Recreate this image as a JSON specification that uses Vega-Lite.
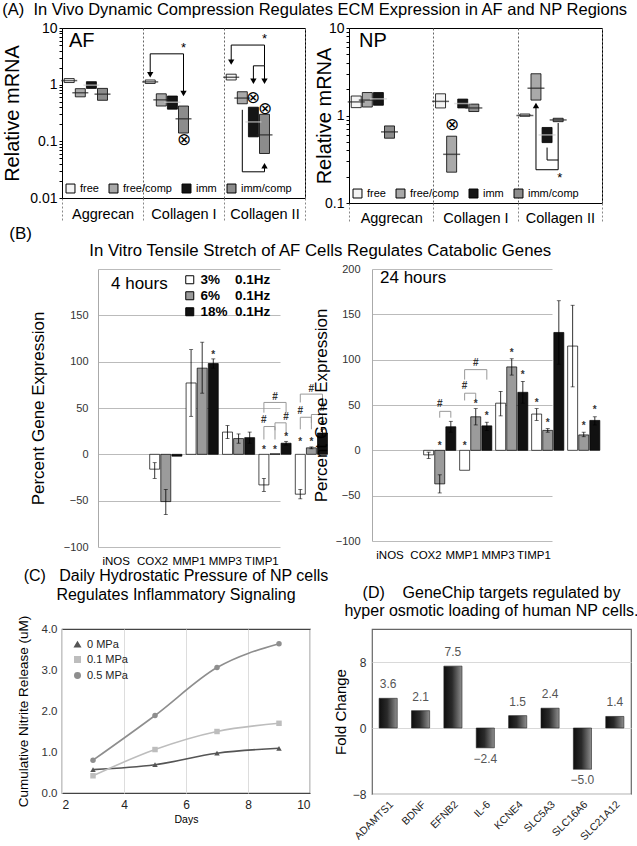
{
"$schema": "https://vega.github.io/schema/vega-lite/v6.json",
"background": "white",
"padding": {"left": 2, "top": 2, "right": 2, "bottom": 0},
"spacing": 0,
"align": "none",
"resolve": {"scale": {"fill": "independent", "color": "independent", "shape": "independent"}, "legend": {"fill": "independent", "color": "independent", "shape": "independent"}},
"config": {
 "font": "Liberation Sans",
 "view": {"stroke": null},
 "title": {"font": "Liberation Sans", "fontWeight": "normal", "color": "black"},
 "axis": {"labelFont": "Liberation Sans", "titleFont": "Liberation Sans", "titleFontWeight": "normal", "titleColor": "black"},
 "legend": {"labelFont": "Liberation Sans"}
},
"datasets": {
 "afBox": [
  {"cat":"Aggrecan","group":"free","lo":1.09,"med":1.18,"hi":1.28},
  {"cat":"Aggrecan","group":"free/comp","lo":0.61,"med":0.72,"hi":0.85},
  {"cat":"Aggrecan","group":"imm","lo":0.86,"med":0.98,"hi":1.13},
  {"cat":"Aggrecan","group":"imm/comp","lo":0.53,"med":0.68,"hi":0.86},
  {"cat":"Collagen I","group":"free","lo":1.05,"med":1.12,"hi":1.21},
  {"cat":"Collagen I","group":"free/comp","lo":0.42,"med":0.54,"hi":0.69},
  {"cat":"Collagen I","group":"imm","lo":0.37,"med":0.49,"hi":0.63},
  {"cat":"Collagen I","group":"imm/comp","lo":0.14,"med":0.25,"hi":0.42},
  {"cat":"Collagen II","group":"free","lo":1.21,"med":1.35,"hi":1.53},
  {"cat":"Collagen II","group":"free/comp","lo":0.46,"med":0.58,"hi":0.75},
  {"cat":"Collagen II","group":"imm","lo":0.12,"med":0.22,"hi":0.40},
  {"cat":"Collagen II","group":"imm/comp","lo":0.061,"med":0.13,"hi":0.30}
 ],
 "afLine": [
  {"id":"a","ord":1,"cat":"Collagen I","group":"free","v":1.5},
  {"id":"a","ord":2,"cat":"Collagen I","group":"free","v":3.5},
  {"id":"a","ord":3,"cat":"Collagen I","group":"imm/comp","v":3.5},
  {"id":"a","ord":4,"cat":"Collagen I","group":"imm/comp","v":0.75},
  {"id":"b","ord":1,"cat":"Collagen II","group":"free","v":2.6},
  {"id":"b","ord":2,"cat":"Collagen II","group":"free","v":5.0},
  {"id":"b","ord":3,"cat":"Collagen II","group":"imm/comp","v":5.0},
  {"id":"b","ord":4,"cat":"Collagen II","group":"imm/comp","v":2.15},
  {"id":"c","ord":1,"cat":"Collagen II","group":"imm","v":1.2},
  {"id":"c","ord":2,"cat":"Collagen II","group":"imm","v":2.15},
  {"id":"c","ord":3,"cat":"Collagen II","group":"imm/comp","v":2.15},
  {"id":"c","ord":4,"cat":"Collagen II","group":"imm/comp","v":1.2},
  {"id":"d","ord":1,"cat":"Collagen II","group":"free/comp","v":0.36},
  {"id":"d","ord":2,"cat":"Collagen II","group":"free/comp","v":0.029},
  {"id":"d","ord":3,"cat":"Collagen II","group":"imm/comp","v":0.029},
  {"id":"d","ord":4,"cat":"Collagen II","group":"imm/comp","v":0.034}
 ],
 "afArrow": [
  {"cat":"Collagen I","group":"free","v":1.5,"dir":"down"},
  {"cat":"Collagen I","group":"imm/comp","v":0.7,"dir":"down"},
  {"cat":"Collagen II","group":"free","v":2.5,"dir":"down"},
  {"cat":"Collagen II","group":"imm","v":1.15,"dir":"down"},
  {"cat":"Collagen II","group":"imm/comp","v":1.15,"dir":"down"},
  {"cat":"Collagen II","group":"imm/comp","v":0.037,"dir":"up"}
 ],
 "afMark": [
  {"cat":"Collagen I","group":"imm/comp","v":0.105,"t":"⊗"},
  {"cat":"Collagen II","group":"imm","v":0.58,"t":"⊗"},
  {"cat":"Collagen II","group":"imm/comp","v":0.37,"t":"⊗"}
 ],
 "afStar": [
  {"cat":"Collagen I","v":4.4,"t":"*"},
  {"cat":"Collagen II","v":6.3,"t":"*"}
 ],
 "npBox": [
  {"cat":"Aggrecan","group":"free","lo":1.23,"med":1.43,"hi":1.67},
  {"cat":"Aggrecan","group":"free/comp","lo":1.25,"med":1.5,"hi":1.83},
  {"cat":"Aggrecan","group":"imm","lo":1.31,"med":1.55,"hi":1.83},
  {"cat":"Aggrecan","group":"imm/comp","lo":0.55,"med":0.65,"hi":0.76},
  {"cat":"Collagen I","group":"free","lo":1.22,"med":1.45,"hi":1.77},
  {"cat":"Collagen I","group":"free/comp","lo":0.225,"med":0.36,"hi":0.58},
  {"cat":"Collagen I","group":"imm","lo":1.22,"med":1.37,"hi":1.54},
  {"cat":"Collagen I","group":"imm/comp","lo":1.11,"med":1.22,"hi":1.35},
  {"cat":"Collagen II","group":"free","lo":0.98,"med":1.0,"hi":1.04},
  {"cat":"Collagen II","group":"free/comp","lo":1.5,"med":2.05,"hi":3.0},
  {"cat":"Collagen II","group":"imm","lo":0.49,"med":0.6,"hi":0.73},
  {"cat":"Collagen II","group":"imm/comp","lo":0.85,"med":0.89,"hi":0.93}
 ],
 "npLine": [
  {"id":"e","ord":1,"cat":"Collagen II","group":"imm","v":0.43},
  {"id":"e","ord":2,"cat":"Collagen II","group":"imm","v":0.31},
  {"id":"e","ord":3,"cat":"Collagen II","group":"imm/comp","v":0.31},
  {"id":"e","ord":4,"cat":"Collagen II","group":"imm/comp","v":0.82},
  {"id":"f","ord":1,"cat":"Collagen II","group":"imm/comp","v":0.31},
  {"id":"f","ord":2,"cat":"Collagen II","group":"imm/comp","v":0.24},
  {"id":"f","ord":3,"cat":"Collagen II","group":"free/comp","v":0.24},
  {"id":"f","ord":4,"cat":"Collagen II","group":"free/comp","v":1.3}
 ],
 "npArrow": [
  {"cat":"Collagen II","group":"free/comp","v":1.3,"dir":"up"}
 ],
 "npMark": [
  {"cat":"Collagen I","group":"free/comp","v":0.78,"t":"⊗"}
 ],
 "npStar": [
  {"cat":"Collagen II","v":0.195,"t":"*"}
 ],
 "b4": [
  {"gene":"iNOS","cond":"3%","v":-16,"lo":-26,"hi":-9},
  {"gene":"iNOS","cond":"6%","v":-51,"lo":-65,"hi":-38},
  {"gene":"iNOS","cond":"18%","v":-2,"lo":null,"hi":null},
  {"gene":"COX2","cond":"3%","v":77,"lo":41,"hi":113},
  {"gene":"COX2","cond":"6%","v":93,"lo":66,"hi":121},
  {"gene":"COX2","cond":"18%","v":98,"lo":93,"hi":103},
  {"gene":"MMP1","cond":"3%","v":24,"lo":17,"hi":31},
  {"gene":"MMP1","cond":"6%","v":17,"lo":12,"hi":22},
  {"gene":"MMP1","cond":"18%","v":18,"lo":12,"hi":24},
  {"gene":"MMP3","cond":"3%","v":-33,"lo":-40,"hi":-26},
  {"gene":"MMP3","cond":"6%","v":0.6,"lo":null,"hi":null},
  {"gene":"MMP3","cond":"18%","v":12,"lo":10,"hi":14},
  {"gene":"TIMP1","cond":"3%","v":-43,"lo":-48,"hi":-38},
  {"gene":"TIMP1","cond":"6%","v":7,"lo":6,"hi":8},
  {"gene":"TIMP1","cond":"18%","v":23,"lo":20,"hi":27}
 ],
 "b4ann": [
  {"gene":"COX2","cond":"18%","v":107,"t":"*"},
  {"gene":"MMP3","cond":"3%","v":5,"t":"*"},
  {"gene":"MMP3","cond":"6%","v":5,"t":"*"},
  {"gene":"MMP3","cond":"18%","v":19,"t":"*"},
  {"gene":"TIMP1","cond":"3%","v":13,"t":"*"},
  {"gene":"TIMP1","cond":"6%","v":13,"t":"*"},
  {"gene":"TIMP1","cond":"18%","v":32,"t":"*"},
  {"gene":"MMP3","cond":"3%","v":37,"t":"#"},
  {"gene":"MMP3","cond":"18%","v":40,"t":"#"},
  {"gene":"MMP3","cond":"6%","v":62,"t":"#"},
  {"gene":"TIMP1","cond":"3%","v":47,"t":"#"},
  {"gene":"TIMP1","cond":"18%","v":50,"t":"#"},
  {"gene":"TIMP1","cond":"6%","v":71,"t":"#"}
 ],
 "b4br": [
  {"id":"m1","ord":1,"gene":"MMP3","cond":"3%","v":16},
  {"id":"m1","ord":2,"gene":"MMP3","cond":"3%","v":30},
  {"id":"m1","ord":3,"gene":"MMP3","cond":"6%","v":30},
  {"id":"m1","ord":4,"gene":"MMP3","cond":"6%","v":16},
  {"id":"m2","ord":1,"gene":"MMP3","cond":"6%","v":26},
  {"id":"m2","ord":2,"gene":"MMP3","cond":"6%","v":34},
  {"id":"m2","ord":3,"gene":"MMP3","cond":"18%","v":34},
  {"id":"m2","ord":4,"gene":"MMP3","cond":"18%","v":22},
  {"id":"m3","ord":1,"gene":"MMP3","cond":"3%","v":45},
  {"id":"m3","ord":2,"gene":"MMP3","cond":"3%","v":56},
  {"id":"m3","ord":3,"gene":"MMP3","cond":"18%","v":56},
  {"id":"m3","ord":4,"gene":"MMP3","cond":"18%","v":45},
  {"id":"t1","ord":1,"gene":"TIMP1","cond":"3%","v":27},
  {"id":"t1","ord":2,"gene":"TIMP1","cond":"3%","v":40},
  {"id":"t1","ord":3,"gene":"TIMP1","cond":"6%","v":40},
  {"id":"t1","ord":4,"gene":"TIMP1","cond":"6%","v":27},
  {"id":"t2","ord":1,"gene":"TIMP1","cond":"6%","v":34},
  {"id":"t2","ord":2,"gene":"TIMP1","cond":"6%","v":43},
  {"id":"t2","ord":3,"gene":"TIMP1","cond":"18%","v":43},
  {"id":"t2","ord":4,"gene":"TIMP1","cond":"18%","v":36},
  {"id":"t3","ord":1,"gene":"TIMP1","cond":"3%","v":56},
  {"id":"t3","ord":2,"gene":"TIMP1","cond":"3%","v":65},
  {"id":"t3","ord":3,"gene":"TIMP1","cond":"18%","v":65},
  {"id":"t3","ord":4,"gene":"TIMP1","cond":"18%","v":56}
 ],
 "b24": [
  {"gene":"iNOS","cond":"3%","v":-5,"lo":-9,"hi":-2},
  {"gene":"iNOS","cond":"6%","v":-37,"lo":-47,"hi":-27},
  {"gene":"iNOS","cond":"18%","v":26,"lo":20,"hi":32},
  {"gene":"COX2","cond":"3%","v":-22,"lo":null,"hi":null},
  {"gene":"COX2","cond":"6%","v":37,"lo":28,"hi":46},
  {"gene":"COX2","cond":"18%","v":27,"lo":22,"hi":31},
  {"gene":"MMP1","cond":"3%","v":52,"lo":38,"hi":65},
  {"gene":"MMP1","cond":"6%","v":92,"lo":83,"hi":101},
  {"gene":"MMP1","cond":"18%","v":64,"lo":52,"hi":76},
  {"gene":"MMP3","cond":"3%","v":40,"lo":33,"hi":46},
  {"gene":"MMP3","cond":"6%","v":22,"lo":20,"hi":24},
  {"gene":"MMP3","cond":"18%","v":130,"lo":95,"hi":165},
  {"gene":"TIMP1","cond":"3%","v":115,"lo":70,"hi":160},
  {"gene":"TIMP1","cond":"6%","v":17,"lo":15,"hi":20},
  {"gene":"TIMP1","cond":"18%","v":33,"lo":28,"hi":37}
 ],
 "b24ann": [
  {"gene":"iNOS","cond":"6%","v":5,"t":"*"},
  {"gene":"COX2","cond":"3%","v":5,"t":"*"},
  {"gene":"COX2","cond":"6%","v":51,"t":"*"},
  {"gene":"COX2","cond":"18%","v":38,"t":"*"},
  {"gene":"MMP1","cond":"6%","v":107,"t":"*"},
  {"gene":"MMP1","cond":"18%","v":83,"t":"*"},
  {"gene":"MMP3","cond":"3%","v":52,"t":"*"},
  {"gene":"MMP3","cond":"6%","v":30,"t":"*"},
  {"gene":"TIMP1","cond":"6%","v":27,"t":"*"},
  {"gene":"TIMP1","cond":"18%","v":44,"t":"*"},
  {"gene":"iNOS","cond":"6%","v":51,"t":"#"},
  {"gene":"COX2","cond":"3%","v":71,"t":"#"},
  {"gene":"COX2","cond":"6%","v":96,"t":"#"}
 ],
 "b24br": [
  {"id":"i1","ord":1,"gene":"iNOS","cond":"6%","v":36},
  {"id":"i1","ord":2,"gene":"iNOS","cond":"6%","v":43},
  {"id":"i1","ord":3,"gene":"iNOS","cond":"18%","v":43},
  {"id":"i1","ord":4,"gene":"iNOS","cond":"18%","v":36},
  {"id":"c1","ord":1,"gene":"COX2","cond":"3%","v":55},
  {"id":"c1","ord":2,"gene":"COX2","cond":"3%","v":63},
  {"id":"c1","ord":3,"gene":"COX2","cond":"6%","v":63},
  {"id":"c1","ord":4,"gene":"COX2","cond":"6%","v":55},
  {"id":"c2","ord":1,"gene":"COX2","cond":"3%","v":78},
  {"id":"c2","ord":2,"gene":"COX2","cond":"3%","v":89},
  {"id":"c2","ord":3,"gene":"COX2","cond":"18%","v":89},
  {"id":"c2","ord":4,"gene":"COX2","cond":"18%","v":78}
 ],
 "cdata": [
  {"p":"0 MPa","day":3,"v":0.57},{"p":"0 MPa","day":5,"v":0.69},{"p":"0 MPa","day":7,"v":0.97},{"p":"0 MPa","day":9,"v":1.09},
  {"p":"0.1 MPa","day":3,"v":0.42},{"p":"0.1 MPa","day":5,"v":1.06},{"p":"0.1 MPa","day":7,"v":1.5},{"p":"0.1 MPa","day":9,"v":1.7},
  {"p":"0.5 MPa","day":3,"v":0.8},{"p":"0.5 MPa","day":5,"v":1.89},{"p":"0.5 MPa","day":7,"v":3.06},{"p":"0.5 MPa","day":9,"v":3.64}
 ],
 "ddata": [
  {"gene":"ADAMTS1","v":3.6},{"gene":"BDNF","v":2.1},{"gene":"EFNB2","v":7.5},{"gene":"IL-6","v":-2.4},
  {"gene":"KCNE4","v":1.5},{"gene":"SLC5A3","v":2.4},{"gene":"SLC16A6","v":-5.0},{"gene":"SLC21A12","v":1.4}
 ]
},
"vconcat": [
 {
  "title": {"text": "(A)\u00a0 In Vivo Dynamic Compression Regulates ECM Expression in AF and NP Regions", "anchor": "start", "fontSize": 16.5, "offset": 2},
  "spacing": 8,
  "align": "none",
  "resolve": {"scale": {"fill": "independent", "color": "independent", "shape": "independent"}, "legend": {"fill": "independent", "color": "independent", "shape": "independent"}},
  "hconcat": [
   {
    "width": 243, "height": 170,
    "view": {"stroke": "black", "strokeWidth": 1},
    "title": {"text": "AF", "anchor": "start", "frame": "group", "offset": -30, "dx": 7, "fontSize": 20},
    "layer": [
     {"data": {"name": "afBox"}, "mark": {"type": "bar", "stroke": "black", "strokeWidth": 0.8},
      "encoding": {
       "x": {"field": "cat", "type": "nominal", "scale": {"domain": ["Aggrecan","Collagen I","Collagen II"], "paddingInner": 0, "paddingOuter": 0},
             "axis": {"title": null, "labelAngle": 0, "labelFontSize": 14.5, "labelColor": "black", "tickBand": "extent", "grid": true, "gridDash": [2,2], "gridColor": "#666", "tickSize": 22, "tickDash": [2,2], "tickColor": "#888", "labelPadding": -13, "domain": false}},
       "xOffset": {"field": "group", "type": "nominal", "scale": {"domain": ["free","free/comp","imm","imm/comp"], "paddingInner": 0.1, "paddingOuter": 0.2}},
       "y": {"field": "lo", "type": "quantitative", "title": "Relative mRNA", "scale": {"type": "log", "domain": [0.01, 10], "nice": false},
             "axis": {"values": [0.01,0.02,0.03,0.04,0.05,0.06,0.07,0.08,0.09,0.1,0.2,0.3,0.4,0.5,0.6,0.7,0.8,0.9,1,2,3,4,5,6,7,8,9,10],
                      "labelExpr": "datum.value === 10 ? '10' : datum.value === 1 ? '1' : datum.value === 0.1 ? '0.1' : datum.value === 0.01 ? '0.01' : ''",
                      "labelFontSize": 14, "labelColor": "black", "titleFontSize": 20, "titlePadding": 7, "tickSize": 3, "tickColor": "black", "domainColor": "black", "grid": false, "labelPadding": 2}},
       "y2": {"field": "hi"},
       "fill": {"field": "group", "type": "nominal", "scale": {"domain": ["free","free/comp","imm","imm/comp"], "range": ["#f4f4f4","#a9a9a9","#151515","#8c8c8c"]},
                "legend": {"title": null, "orient": "bottom-left", "direction": "horizontal", "symbolType": "square", "symbolSize": 80, "symbolStrokeColor": "black", "symbolStrokeWidth": 1, "labelFontSize": 11, "labelColor": "black", "columnPadding": 8, "offset": 3, "padding": 0}}
      }},
     {"mark": {"type": "rule", "strokeDash": [6,4], "color": "black", "strokeWidth": 1.3}, "encoding": {"y": {"datum": 1, "type": "quantitative"}}},
     {"data": {"name": "afBox"}, "mark": {"type": "tick", "thickness": 1.5, "size": 16},
      "encoding": {
       "x": {"field": "cat", "type": "nominal", "scale": {"domain": ["Aggrecan","Collagen I","Collagen II"]}},
       "xOffset": {"field": "group", "type": "nominal", "scale": {"domain": ["free","free/comp","imm","imm/comp"]}},
       "y": {"field": "med", "type": "quantitative", "title": "Relative mRNA"},
       "color": {"condition": {"test": "datum.group === 'imm'", "value": "#cfcfcf"}, "value": "#222"}
      }},
     {"data": {"name": "afLine"}, "mark": {"type": "line", "color": "black", "strokeWidth": 1},
      "encoding": {
       "x": {"field": "cat", "type": "nominal", "scale": {"domain": ["Aggrecan","Collagen I","Collagen II"]}},
       "xOffset": {"field": "group", "type": "nominal", "scale": {"domain": ["free","free/comp","imm","imm/comp"]}},
       "y": {"field": "v", "type": "quantitative", "title": "Relative mRNA"},
       "detail": {"field": "id"},
       "order": {"field": "ord"}
      }},
     {"data": {"name": "afArrow"}, "mark": {"type": "point", "filled": true, "color": "black", "size": 40, "opacity": 1},
      "encoding": {
       "x": {"field": "cat", "type": "nominal", "scale": {"domain": ["Aggrecan","Collagen I","Collagen II"]}},
       "xOffset": {"field": "group", "type": "nominal", "scale": {"domain": ["free","free/comp","imm","imm/comp"]}},
       "y": {"field": "v", "type": "quantitative", "title": "Relative mRNA"},
       "shape": {"field": "dir", "type": "nominal", "scale": {"domain": ["down","up"], "range": ["triangle-down","triangle-up"]}, "legend": null}
      }},
     {"data": {"name": "afMark"}, "mark": {"type": "text", "fontSize": 17, "color": "black", "baseline": "middle"},
      "encoding": {
       "x": {"field": "cat", "type": "nominal", "scale": {"domain": ["Aggrecan","Collagen I","Collagen II"]}},
       "xOffset": {"field": "group", "type": "nominal", "scale": {"domain": ["free","free/comp","imm","imm/comp"]}},
       "y": {"field": "v", "type": "quantitative", "title": "Relative mRNA"},
       "text": {"field": "t"}
      }},
     {"data": {"name": "afStar"}, "mark": {"type": "text", "fontSize": 13, "color": "black", "baseline": "middle"},
      "encoding": {
       "x": {"field": "cat", "type": "nominal", "scale": {"domain": ["Aggrecan","Collagen I","Collagen II"]}},
       "y": {"field": "v", "type": "quantitative", "title": "Relative mRNA"},
       "text": {"field": "t"}
      }}
    ]
   },
   {
    "width": 253, "height": 175,
    "view": {"stroke": "black", "strokeWidth": 1},
    "title": {"text": "NP", "anchor": "start", "frame": "group", "offset": -30, "dx": 10, "fontSize": 20},
    "layer": [
     {"data": {"name": "npBox"}, "mark": {"type": "bar", "stroke": "black", "strokeWidth": 0.8},
      "encoding": {
       "x": {"field": "cat", "type": "nominal", "scale": {"domain": ["Aggrecan","Collagen I","Collagen II"], "paddingInner": 0, "paddingOuter": 0},
             "axis": {"title": null, "labelAngle": 0, "labelFontSize": 14.5, "labelColor": "black", "tickBand": "extent", "grid": true, "gridDash": [2,2], "gridColor": "#666", "tickSize": 20, "tickDash": [2,2], "tickColor": "#888", "labelPadding": -12, "domain": false}},
       "xOffset": {"field": "group", "type": "nominal", "scale": {"domain": ["free","free/comp","imm","imm/comp"], "paddingInner": 0.1, "paddingOuter": 0.2}},
       "y": {"field": "lo", "type": "quantitative", "title": "Relative mRNA", "scale": {"type": "log", "domain": [0.1, 10], "nice": false},
             "axis": {"values": [0.1,0.2,0.3,0.4,0.5,0.6,0.7,0.8,0.9,1,2,3,4,5,6,7,8,9,10],
                      "labelExpr": "datum.value === 10 ? '10' : datum.value === 1 ? '1' : datum.value === 0.1 ? '0.1' : ''",
                      "labelFontSize": 14, "labelColor": "black", "titleFontSize": 20, "titlePadding": -10, "tickSize": 3, "tickColor": "black", "domainColor": "black", "grid": false, "labelPadding": 2}},
       "y2": {"field": "hi"},
       "fill": {"field": "group", "type": "nominal", "scale": {"domain": ["free","free/comp","imm","imm/comp"], "range": ["#f4f4f4","#a9a9a9","#151515","#8c8c8c"]},
                "legend": {"title": null, "orient": "bottom-left", "direction": "horizontal", "symbolType": "square", "symbolSize": 80, "symbolStrokeColor": "black", "symbolStrokeWidth": 1, "labelFontSize": 11, "labelColor": "black", "columnPadding": 8, "offset": 3, "padding": 0}}
      }},
     {"mark": {"type": "rule", "strokeDash": [6,4], "color": "black", "strokeWidth": 1.3}, "encoding": {"y": {"datum": 1, "type": "quantitative"}}},
     {"data": {"name": "npBox"}, "mark": {"type": "tick", "thickness": 1.5, "size": 17},
      "encoding": {
       "x": {"field": "cat", "type": "nominal", "scale": {"domain": ["Aggrecan","Collagen I","Collagen II"]}},
       "xOffset": {"field": "group", "type": "nominal", "scale": {"domain": ["free","free/comp","imm","imm/comp"]}},
       "y": {"field": "med", "type": "quantitative", "title": "Relative mRNA"},
       "color": {"condition": {"test": "datum.group === 'imm'", "value": "#cfcfcf"}, "value": "#222"}
      }},
     {"data": {"name": "npLine"}, "mark": {"type": "line", "color": "black", "strokeWidth": 1},
      "encoding": {
       "x": {"field": "cat", "type": "nominal", "scale": {"domain": ["Aggrecan","Collagen I","Collagen II"]}},
       "xOffset": {"field": "group", "type": "nominal", "scale": {"domain": ["free","free/comp","imm","imm/comp"]}},
       "y": {"field": "v", "type": "quantitative", "title": "Relative mRNA"},
       "detail": {"field": "id"},
       "order": {"field": "ord"}
      }},
     {"data": {"name": "npArrow"}, "mark": {"type": "point", "filled": true, "color": "black", "size": 40, "opacity": 1},
      "encoding": {
       "x": {"field": "cat", "type": "nominal", "scale": {"domain": ["Aggrecan","Collagen I","Collagen II"]}},
       "xOffset": {"field": "group", "type": "nominal", "scale": {"domain": ["free","free/comp","imm","imm/comp"]}},
       "y": {"field": "v", "type": "quantitative", "title": "Relative mRNA"},
       "shape": {"field": "dir", "type": "nominal", "scale": {"domain": ["down","up"], "range": ["triangle-down","triangle-up"]}, "legend": null}
      }},
     {"data": {"name": "npMark"}, "mark": {"type": "text", "fontSize": 17, "color": "black", "baseline": "middle"},
      "encoding": {
       "x": {"field": "cat", "type": "nominal", "scale": {"domain": ["Aggrecan","Collagen I","Collagen II"]}},
       "xOffset": {"field": "group", "type": "nominal", "scale": {"domain": ["free","free/comp","imm","imm/comp"]}},
       "y": {"field": "v", "type": "quantitative", "title": "Relative mRNA"},
       "text": {"field": "t"}
      }},
     {"data": {"name": "npStar"}, "mark": {"type": "text", "fontSize": 13, "color": "black", "baseline": "middle"},
      "encoding": {
       "x": {"field": "cat", "type": "nominal", "scale": {"domain": ["Aggrecan","Collagen I","Collagen II"]}},
       "y": {"field": "v", "type": "quantitative", "title": "Relative mRNA"},
       "text": {"field": "t"}
      }}
    ]
   }
  ]
 },
 {
  "spacing": -54,
  "align": "none",
  "resolve": {"scale": {"fill": "independent", "color": "independent", "shape": "independent"}, "legend": {"fill": "independent", "color": "independent", "shape": "independent"}},
  "hconcat": [
   {"width": 1, "height": 1, "data": {"values": []}, "mark": "point"},
   {
    "title": {"text": "(B)", "anchor": "start", "fontSize": 17, "dx": -20, "offset": 0},
    "align": "none",
    "resolve": {"scale": {"fill": "independent", "color": "independent", "shape": "independent"}, "legend": {"fill": "independent", "color": "independent", "shape": "independent"}},
    "vconcat": [
     {
      "title": {"text": "In Vitro Tensile Stretch of AF Cells Regulates Catabolic Genes", "anchor": "start", "fontSize": 16.8, "dx": 60, "offset": 3},
      "spacing": -16,
      "align": "none",
      "resolve": {"scale": {"fill": "independent", "color": "independent", "shape": "independent"}, "legend": {"fill": "independent", "color": "independent", "shape": "independent"}},
      "hconcat": [
       {
        "width": 182, "height": 278,
        "title": {"text": "4 hours", "anchor": "start", "frame": "group", "offset": -24, "dx": 13, "fontSize": 17},
        "layer": [
         {"data": {"name": "b4"}, "mark": {"type": "bar", "stroke": "black", "strokeWidth": 0.7},
          "encoding": {
           "x": {"field": "gene", "type": "nominal", "scale": {"domain": ["iNOS","COX2","MMP1","MMP3","TIMP1"], "paddingInner": 0.28, "paddingOuter": 0.14},
                 "axis": {"title": null, "labelAngle": 0, "labelFontSize": 11.5, "labelColor": "black", "domain": false, "ticks": false, "labelPadding": 8}},
           "xOffset": {"field": "cond", "type": "nominal", "scale": {"domain": ["3%","6%","18%"], "paddingInner": 0, "paddingOuter": 0}},
           "y": {"field": "v", "type": "quantitative", "title": "Percent Gene Expression", "scale": {"domain": [-100, 200], "nice": false},
                 "axis": {"values": [-100,-50,0,50,100,150,200], "labelExpr": "datum.value === 200 ? '' : datum.label", "labelFontSize": 11, "labelColor": "#333", "labelPadding": 10, "ticks": false, "grid": true, "gridColor": "#bbb", "domainColor": "#aaa", "titleFontSize": 17, "titlePadding": 16}},
           "fill": {"field": "cond", "type": "nominal", "scale": {"domain": ["3%","6%","18%"], "range": ["#ffffff","#9b9b9b","#111111"]},
                    "legend": {"title": null, "orient": "none", "legendX": 85, "legendY": 4, "padding": 0, "symbolType": "square", "symbolSize": 64, "symbolStrokeColor": "black", "symbolStrokeWidth": 1, "labelFontSize": 13.5, "labelFontWeight": "bold", "labelColor": "black", "rowPadding": 1,
                               "labelExpr": "datum.label === '18%' ? '18%\u00a0\u00a00.1Hz' : datum.label + '\u00a0\u00a0\u00a0\u00a00.1Hz'"}}
          }},
         {"data": {"name": "b4"}, "mark": {"type": "rule", "color": "black", "strokeWidth": 0.8},
          "encoding": {
           "x": {"field": "gene", "type": "nominal", "scale": {"domain": ["iNOS","COX2","MMP1","MMP3","TIMP1"]}},
           "xOffset": {"field": "cond", "type": "nominal", "scale": {"domain": ["3%","6%","18%"]}},
           "y": {"field": "lo", "type": "quantitative", "title": "Percent Gene Expression"},
           "y2": {"field": "hi"}
          }},
         {"data": {"name": "b4"}, "mark": {"type": "tick", "color": "black", "size": 4, "thickness": 0.8},
          "encoding": {
           "x": {"field": "gene", "type": "nominal", "scale": {"domain": ["iNOS","COX2","MMP1","MMP3","TIMP1"]}},
           "xOffset": {"field": "cond", "type": "nominal", "scale": {"domain": ["3%","6%","18%"]}},
           "y": {"field": "lo", "type": "quantitative", "title": "Percent Gene Expression"}
          }},
         {"data": {"name": "b4"}, "mark": {"type": "tick", "color": "black", "size": 4, "thickness": 0.8},
          "encoding": {
           "x": {"field": "gene", "type": "nominal", "scale": {"domain": ["iNOS","COX2","MMP1","MMP3","TIMP1"]}},
           "xOffset": {"field": "cond", "type": "nominal", "scale": {"domain": ["3%","6%","18%"]}},
           "y": {"field": "hi", "type": "quantitative", "title": "Percent Gene Expression"}
          }},
         {"data": {"name": "b4br"}, "mark": {"type": "line", "color": "#999", "strokeWidth": 1},
          "encoding": {
           "x": {"field": "gene", "type": "nominal", "scale": {"domain": ["iNOS","COX2","MMP1","MMP3","TIMP1"]}},
           "xOffset": {"field": "cond", "type": "nominal", "scale": {"domain": ["3%","6%","18%"]}},
           "y": {"field": "v", "type": "quantitative", "title": "Percent Gene Expression"},
           "detail": {"field": "id"},
           "order": {"field": "ord"}
          }},
         {"data": {"name": "b4ann"}, "mark": {"type": "text", "fontSize": 10, "fontWeight": "bold", "color": "#333", "baseline": "middle"},
          "encoding": {
           "x": {"field": "gene", "type": "nominal", "scale": {"domain": ["iNOS","COX2","MMP1","MMP3","TIMP1"]}},
           "xOffset": {"field": "cond", "type": "nominal", "scale": {"domain": ["3%","6%","18%"]}},
           "y": {"field": "v", "type": "quantitative", "title": "Percent Gene Expression"},
           "text": {"field": "t"}
          }}
        ]
       },
       {
        "width": 180, "height": 272,
        "title": {"text": "24 hours", "anchor": "start", "frame": "group", "offset": -24, "dx": 8, "fontSize": 17},
        "layer": [
         {"data": {"name": "b24"}, "mark": {"type": "bar", "stroke": "black", "strokeWidth": 0.7},
          "encoding": {
           "x": {"field": "gene", "type": "nominal", "scale": {"domain": ["iNOS","COX2","MMP1","MMP3","TIMP1"], "paddingInner": 0.28, "paddingOuter": 0.14},
                 "axis": {"title": null, "labelAngle": 0, "labelFontSize": 11.5, "labelColor": "black", "domain": false, "ticks": false, "labelPadding": 8}},
           "xOffset": {"field": "cond", "type": "nominal", "scale": {"domain": ["3%","6%","18%"], "paddingInner": 0, "paddingOuter": 0}},
           "y": {"field": "v", "type": "quantitative", "title": "Percent Gene Expression", "scale": {"domain": [-100, 200], "nice": false},
                 "axis": {"values": [-100,-50,0,50,100,150,200], "labelFontSize": 11, "labelColor": "#333", "labelPadding": 12, "ticks": false, "grid": true, "gridColor": "#bbb", "domainColor": "#aaa", "titleFontSize": 17, "titlePadding": 5}},
           "fill": {"field": "cond", "type": "nominal", "scale": {"domain": ["3%","6%","18%"], "range": ["#ffffff","#9b9b9b","#111111"]}, "legend": null}
          }},
         {"data": {"name": "b24"}, "mark": {"type": "rule", "color": "black", "strokeWidth": 0.8},
          "encoding": {
           "x": {"field": "gene", "type": "nominal", "scale": {"domain": ["iNOS","COX2","MMP1","MMP3","TIMP1"]}},
           "xOffset": {"field": "cond", "type": "nominal", "scale": {"domain": ["3%","6%","18%"]}},
           "y": {"field": "lo", "type": "quantitative", "title": "Percent Gene Expression"},
           "y2": {"field": "hi"}
          }},
         {"data": {"name": "b24"}, "mark": {"type": "tick", "color": "black", "size": 4, "thickness": 0.8},
          "encoding": {
           "x": {"field": "gene", "type": "nominal", "scale": {"domain": ["iNOS","COX2","MMP1","MMP3","TIMP1"]}},
           "xOffset": {"field": "cond", "type": "nominal", "scale": {"domain": ["3%","6%","18%"]}},
           "y": {"field": "lo", "type": "quantitative", "title": "Percent Gene Expression"}
          }},
         {"data": {"name": "b24"}, "mark": {"type": "tick", "color": "black", "size": 4, "thickness": 0.8},
          "encoding": {
           "x": {"field": "gene", "type": "nominal", "scale": {"domain": ["iNOS","COX2","MMP1","MMP3","TIMP1"]}},
           "xOffset": {"field": "cond", "type": "nominal", "scale": {"domain": ["3%","6%","18%"]}},
           "y": {"field": "hi", "type": "quantitative", "title": "Percent Gene Expression"}
          }},
         {"data": {"name": "b24br"}, "mark": {"type": "line", "color": "#999", "strokeWidth": 1},
          "encoding": {
           "x": {"field": "gene", "type": "nominal", "scale": {"domain": ["iNOS","COX2","MMP1","MMP3","TIMP1"]}},
           "xOffset": {"field": "cond", "type": "nominal", "scale": {"domain": ["3%","6%","18%"]}},
           "y": {"field": "v", "type": "quantitative", "title": "Percent Gene Expression"},
           "detail": {"field": "id"},
           "order": {"field": "ord"}
          }},
         {"data": {"name": "b24ann"}, "mark": {"type": "text", "fontSize": 10, "fontWeight": "bold", "color": "#333", "baseline": "middle"},
          "encoding": {
           "x": {"field": "gene", "type": "nominal", "scale": {"domain": ["iNOS","COX2","MMP1","MMP3","TIMP1"]}},
           "xOffset": {"field": "cond", "type": "nominal", "scale": {"domain": ["3%","6%","18%"]}},
           "y": {"field": "v", "type": "quantitative", "title": "Percent Gene Expression"},
           "text": {"field": "t"}
          }}
        ]
       }
      ]
     }
    ]
   }
  ]
 },
 {
  "spacing": 2,
  "align": "none",
  "resolve": {"scale": {"fill": "independent", "color": "independent", "shape": "independent"}, "legend": {"fill": "independent", "color": "independent", "shape": "independent"}},
  "hconcat": [
   {
    "width": 248, "height": 164,
    "view": {"stroke": "#444", "strokeWidth": 1.2},
    "title": {"text": ["(C)\u00a0\u00a0 Daily Hydrostatic Pressure of NP cells", "Regulates Inflammatory Signaling"], "fontSize": 16, "lineHeight": 19, "anchor": "middle", "dx": -10, "offset": 12},
    "layer": [
     {"data": {"name": "cdata"}, "mark": {"type": "line", "interpolate": "monotone", "strokeWidth": 1.6},
      "encoding": {
       "x": {"field": "day", "type": "quantitative", "title": "Days", "scale": {"domain": [2, 10], "nice": false},
             "axis": {"values": [2,4,6,8,10], "titleFontSize": 10.5, "labelFontSize": 12, "labelColor": "#222", "grid": true, "gridColor": "#dddddd", "domain": false, "ticks": false, "labelPadding": 6, "titlePadding": 4}},
       "y": {"field": "v", "type": "quantitative", "title": "Cumulative Nitrite Release (uM)", "scale": {"domain": [0, 4], "nice": false},
             "axis": {"values": [0,0.5,1,1.5,2,2.5,3,3.5,4], "format": ".1f", "titleFontSize": 13.5, "labelFontSize": 11.5, "labelColor": "#333", "grid": false, "domain": false, "ticks": false, "labelPadding": 5, "titlePadding": 11}},
       "color": {"field": "p", "type": "nominal", "scale": {"domain": ["0 MPa","0.1 MPa","0.5 MPa"], "range": ["#555555","#bdbdbd","#8e8e8e"]},
                 "legend": {"title": null, "orient": "top-left", "offset": 10, "labelFontSize": 11, "labelColor": "#222", "symbolSize": 30, "rowPadding": 3}}
      }},
     {"data": {"name": "cdata"}, "mark": {"type": "point", "filled": true, "size": 30, "opacity": 1},
      "encoding": {
       "x": {"field": "day", "type": "quantitative", "title": "Days"},
       "y": {"field": "v", "type": "quantitative", "title": "Cumulative Nitrite Release (uM)"},
       "color": {"field": "p", "type": "nominal", "scale": {"domain": ["0 MPa","0.1 MPa","0.5 MPa"], "range": ["#555555","#bdbdbd","#8e8e8e"]},
                 "legend": {"title": null, "orient": "top-left", "offset": 10, "labelFontSize": 11, "labelColor": "#222", "symbolSize": 30, "rowPadding": 3}},
       "shape": {"field": "p", "type": "nominal", "scale": {"domain": ["0 MPa","0.1 MPa","0.5 MPa"], "range": ["triangle-up","square","circle"]},
                 "legend": {"title": null, "orient": "top-left", "offset": 10, "labelFontSize": 11, "labelColor": "#222", "symbolSize": 30, "rowPadding": 3}}
      }}
    ]
   },
   {
    "width": 259, "height": 165,
    "view": {"stroke": "#666", "strokeWidth": 1.2},
    "title": {"text": ["(D)\u00a0\u00a0\u00a0 GeneChip targets regulated by", "hyper osmotic loading of human NP cells."], "fontSize": 16, "lineHeight": 18, "anchor": "middle", "dx": -10, "offset": 10},
    "layer": [
     {"data": {"name": "ddata"},
      "mark": {"type": "bar", "stroke": "#222", "strokeWidth": 0.6,
               "color": {"gradient": "linear", "x1": 0, "y1": 0, "x2": 1, "y2": 0, "stops": [{"offset": 0, "color": "#0e0e0e"}, {"offset": 0.45, "color": "#2a2a2a"}, {"offset": 1, "color": "#8f8f8f"}]}},
      "encoding": {
       "x": {"field": "gene", "type": "nominal", "scale": {"domain": ["ADAMTS1","BDNF","EFNB2","IL-6","KCNE4","SLC5A3","SLC16A6","SLC21A12"], "paddingInner": 0.44, "paddingOuter": 0.22},
             "axis": {"title": null, "labelAngle": -45, "labelFontSize": 10.5, "labelColor": "#222", "ticks": false, "domain": false, "labelPadding": 5}},
       "y": {"field": "v", "type": "quantitative", "title": "Fold Change", "scale": {"domain": [-8, 12], "nice": false},
             "axis": {"values": [-8,-4,0,4,8,12], "grid": true, "gridColor": "#d9d9d9", "ticks": false, "domain": false, "labelFontSize": 12, "labelColor": "#333", "titleFontSize": 15, "labelPadding": 6, "titlePadding": 4}}
      }},
     {"data": {"name": "ddata"}, "transform": [{"filter": "datum.v >= 0"}],
      "mark": {"type": "text", "baseline": "bottom", "dy": -7, "fontSize": 12, "color": "#555"},
      "encoding": {
       "x": {"field": "gene", "type": "nominal", "scale": {"domain": ["ADAMTS1","BDNF","EFNB2","IL-6","KCNE4","SLC5A3","SLC16A6","SLC21A12"]}},
       "y": {"field": "v", "type": "quantitative", "title": "Fold Change"},
       "text": {"field": "v", "type": "quantitative", "format": ".1f"}
      }},
     {"data": {"name": "ddata"}, "transform": [{"filter": "datum.v < 0"}],
      "mark": {"type": "text", "baseline": "top", "dy": 6, "fontSize": 12, "color": "#555"},
      "encoding": {
       "x": {"field": "gene", "type": "nominal", "scale": {"domain": ["ADAMTS1","BDNF","EFNB2","IL-6","KCNE4","SLC5A3","SLC16A6","SLC21A12"]}},
       "y": {"field": "v", "type": "quantitative", "title": "Fold Change"},
       "text": {"field": "v", "type": "quantitative", "format": ".1f"}
      }}
    ]
   }
  ]
 }
]
}
